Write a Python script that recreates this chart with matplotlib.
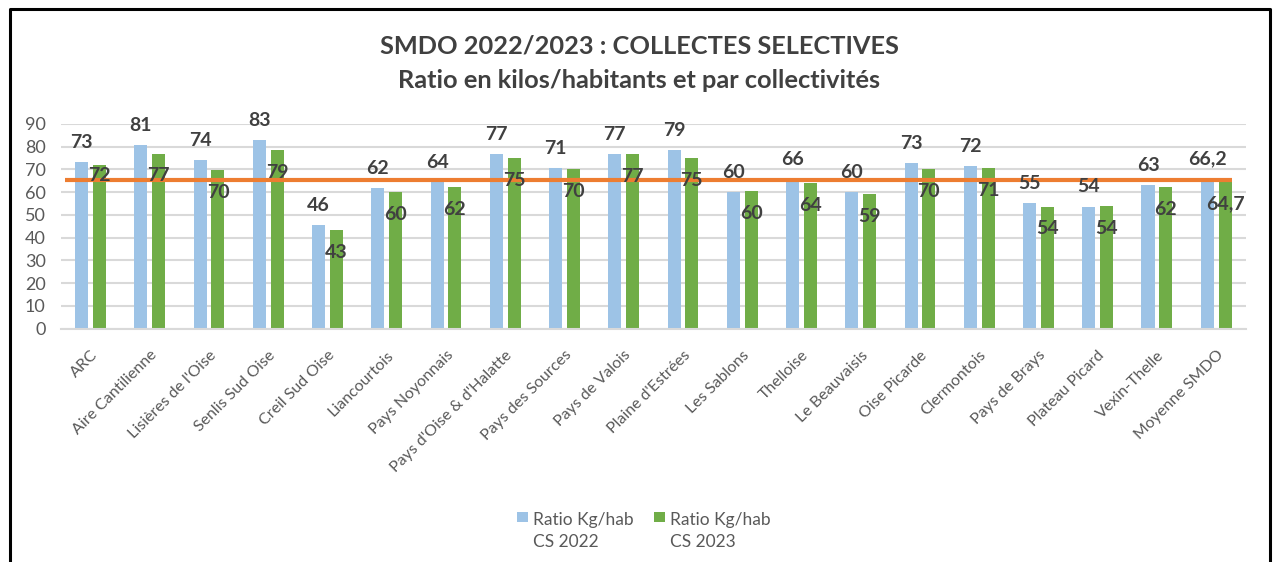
import numpy as np
import matplotlib.pyplot as plt
from matplotlib.lines import Line2D
from matplotlib.patches import Rectangle

# Données (kg/habitant, collectes sélectives)
collectivites = ["ARC", "Aire Cantilienne", "Lisières de l'Oise", "Senlis Sud Oise",
                 "Creil Sud Oise", "Liancourtois", "Pays Noyonnais",
                 "Pays d'Oise & d'Halatte", "Pays des Sources", "Pays de Valois",
                 "Plaine d'Estrées", "Les Sablons", "Thelloise", "Le Beauvaisis",
                 "Oise Picarde", "Clermontois", "Pays de Brays", "Plateau Picard",
                 "Vexin-Thelle", "Moyenne SMDO"]
ratio_2022 = [73.4, 80.6, 74.3, 82.8, 45.6, 61.8, 64.4, 76.8, 70.8, 76.8,
              78.6, 60.0, 65.6, 60.2, 72.9, 71.6, 55.4, 53.7, 63.2, 66.2]
ratio_2023 = [71.9, 77.0, 69.8, 78.7, 43.4, 60.0, 62.4, 75.0, 70.2, 76.6,
              75.0, 60.4, 64.2, 59.3, 70.2, 70.7, 53.7, 54.1, 62.2, 64.7]
moyenne_ref = 65.3
serie_noms = ["Ratio Kg/hab\nCS 2022", "Ratio Kg/hab\nCS 2023"]
y_ticks = [0, 10, 20, 30, 40, 50, 60, 70, 80, 90]

FONT = ["Lato", "DejaVu Sans"]
plt.rcParams['font.family'] = FONT

BLEU = "#9dc3e6"
VERT = "#70ad47"
ORANGE = "#ed7d31"
GRIS_TXT = "#595959"
GRIS_LBL = "#404040"


def fmt(v, last):
    # la moyenne est affichée avec une décimale, virgule française
    if last:
        return f"{v:.1f}".replace(".", ",")
    return f"{v:.0f}"


fig = plt.figure(figsize=(12.73, 5.62), dpi=100)
ax = fig.add_axes([0.0479, 0.4151, 0.9307, 0.3643])

x = np.arange(len(collectivites))
w = 0.22
off = 0.15
ax.bar(x - off, ratio_2022, w, color=BLEU, zorder=2)
ax.bar(x + off, ratio_2023, w, color=VERT, zorder=2)

# ligne de la moyenne
ax.plot([-0.43, len(x) - 1 + 0.27], [moyenne_ref, moyenne_ref],
        color=ORANGE, linewidth=3, zorder=3, solid_capstyle='butt')

n = len(x)
for i in range(n):
    ax.annotate(fmt(ratio_2022[i], i == n - 1), (x[i] - off, ratio_2022[i]),
                xytext=(0, 8), textcoords='offset points', ha='center', va='bottom',
                fontsize=14, fontweight='bold', color=GRIS_LBL, zorder=4,
                annotation_clip=False)
    dy = -1 if i == 0 else -10
    ax.annotate(fmt(ratio_2023[i], i == n - 1), (x[i] + off, ratio_2023[i]),
                xytext=(0, dy), textcoords='offset points', ha='center', va='top',
                fontsize=14, fontweight='bold', color=GRIS_LBL, zorder=4,
                annotation_clip=False)

ax.set_xlim(-0.5, n - 0.5)
ax.set_ylim(0, 90)
ax.set_yticks(y_ticks)
ax.tick_params(axis='y', length=0, pad=11, labelsize=13, labelcolor=GRIS_TXT)
ax.set_xticks(x)
ax.set_xticklabels(collectivites, rotation=45, ha='right', rotation_mode='anchor',
                   fontsize=11.5, color=GRIS_TXT)
ax.tick_params(axis='x', length=0, pad=14)
ax.grid(axis='y', color='#d9d9d9', linewidth=1.5, zorder=0)
ax.set_axisbelow(True)
for s in ['top', 'right', 'left']:
    ax.spines[s].set_visible(False)
ax.spines['bottom'].set_color('#d9d9d9')
ax.spines['bottom'].set_linewidth(1.5)

fig.text(0.502, 0.918, "SMDO 2022/2023 : COLLECTES SELECTIVES", ha='center', va='center',
         fontsize=18.3, fontweight='bold', color=GRIS_LBL)
fig.text(0.502, 0.857, "Ratio en kilos/habitants et par collectivités", ha='center',
         va='center', fontsize=18.3, fontweight='bold', color=GRIS_LBL)

# légende : carré aligné sur la première ligne du libellé
for xm, col, nom in [(0.4061, BLEU, serie_noms[0]), (0.5137, VERT, serie_noms[1])]:
    fig.add_artist(Rectangle((xm, 0.071), 0.0087, 0.0178, transform=fig.transFigure,
                             facecolor=col, edgecolor='none'))
    fig.text(xm + 0.0126, 0.0885, nom, ha='left', va='top', fontsize=12.5,
             color=GRIS_TXT, linespacing=1.45)

# cadre noir autour du graphique
fig.add_artist(Line2D([0.0078, 0.0078, 0.9976, 0.9976], [0.0, 0.984, 0.984, 0.0],
                      transform=fig.transFigure, color='black', linewidth=2.2))

plt.savefig("out.png", dpi=100)
